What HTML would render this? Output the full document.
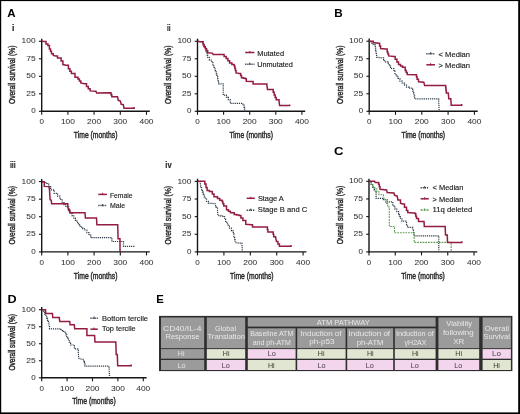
<!DOCTYPE html>
<html><head><meta charset="utf-8"><style>
html,body{margin:0;padding:0;background:#fff;}
body{width:520px;height:414px;overflow:hidden;position:relative;}
svg{position:absolute;left:0;top:0;}
text{font-family:"Liberation Sans",sans-serif;}
.tk{font-size:8px;fill:#333;stroke:#333;stroke-width:0.04px;}
.ttl{font-size:9.6px;fill:#2a2a2a;stroke:#2a2a2a;stroke-width:0.45px;}
.lg{font-size:7.4px;fill:#222;stroke:#222;stroke-width:0.15px;}
.pl{font-size:11.0px;font-weight:bold;fill:#000;}
.rn{font-size:9.2px;font-weight:bold;fill:#2a2a2a;stroke:#2a2a2a;stroke-width:0.2px;}
.tb{font-size:8.0px;}
.td{font-size:7.8px;}
</style></head><body>
<svg width="520" height="414" viewBox="0 0 520 414" style="filter:blur(0.3px)">
<rect x="0" y="0" width="520" height="414" fill="#fff"/>
<rect x="159" y="315.9" width="353.4" height="55.2" fill="#2e2e2e"/>
<rect x="161" y="317.5" width="43.20" height="30.70" fill="#9b9b9b"/>
<rect x="206.8" y="317.5" width="38.40" height="30.70" fill="#9b9b9b"/>
<rect x="438.4" y="317.5" width="40.80" height="30.70" fill="#9b9b9b"/>
<rect x="482.6" y="317.5" width="28.30" height="30.70" fill="#9b9b9b"/>
<rect x="247.8" y="317.5" width="187.80" height="9.10" fill="#9b9b9b"/>
<rect x="247.8" y="328.3" width="47.80" height="19.90" fill="#9b9b9b"/>
<rect x="297.2" y="328.3" width="48.40" height="19.90" fill="#9b9b9b"/>
<rect x="347.2" y="328.3" width="46.00" height="19.90" fill="#9b9b9b"/>
<rect x="394.8" y="328.3" width="40.80" height="19.90" fill="#9b9b9b"/>
<rect x="161" y="349.1" width="43.20" height="9.60" fill="#9b9b9b"/>
<text x="177.76" y="356.35" class="td" fill="#e4e4e4" textLength="6.72" lengthAdjust="spacingAndGlyphs">Hi</text>
<rect x="206.8" y="349.1" width="38.40" height="9.60" fill="#e0e6d1"/>
<text x="222.84" y="356.35" class="td" fill="#363b2e" textLength="6.72" lengthAdjust="spacingAndGlyphs">Hi</text>
<rect x="247.8" y="349.1" width="47.80" height="9.60" fill="#f3d5ed"/>
<text x="267.70" y="356.35" class="td" fill="#463a48" textLength="8.08" lengthAdjust="spacingAndGlyphs">Lo</text>
<rect x="297.2" y="349.1" width="48.40" height="9.60" fill="#e0e6d1"/>
<text x="317.76" y="356.35" class="td" fill="#363b2e" textLength="6.72" lengthAdjust="spacingAndGlyphs">Hi</text>
<rect x="347.2" y="349.1" width="46.00" height="9.60" fill="#e0e6d1"/>
<text x="366.88" y="356.35" class="td" fill="#363b2e" textLength="6.72" lengthAdjust="spacingAndGlyphs">Hi</text>
<rect x="394.8" y="349.1" width="40.80" height="9.60" fill="#e0e6d1"/>
<text x="411.88" y="356.35" class="td" fill="#363b2e" textLength="6.72" lengthAdjust="spacingAndGlyphs">Hi</text>
<rect x="438.4" y="349.1" width="40.80" height="9.60" fill="#e0e6d1"/>
<text x="455.32" y="356.35" class="td" fill="#363b2e" textLength="6.72" lengthAdjust="spacingAndGlyphs">Hi</text>
<rect x="482.6" y="349.1" width="28.30" height="9.60" fill="#f3d5ed"/>
<text x="492.07" y="356.35" class="td" fill="#463a48" textLength="8.88" lengthAdjust="spacingAndGlyphs">Lo</text>
<rect x="161" y="360.0" width="43.20" height="10.00" fill="#9b9b9b"/>
<text x="177.48" y="367.75" class="td" fill="#e4e4e4" textLength="8.08" lengthAdjust="spacingAndGlyphs">Lo</text>
<rect x="206.8" y="360.0" width="38.40" height="10.00" fill="#f3d5ed"/>
<text x="221.76" y="367.75" class="td" fill="#463a48" textLength="8.08" lengthAdjust="spacingAndGlyphs">Lo</text>
<rect x="247.8" y="360.0" width="47.80" height="10.00" fill="#e0e6d1"/>
<text x="267.98" y="367.75" class="td" fill="#363b2e" textLength="6.72" lengthAdjust="spacingAndGlyphs">Hi</text>
<rect x="297.2" y="360.0" width="48.40" height="10.00" fill="#f3d5ed"/>
<text x="317.48" y="367.75" class="td" fill="#463a48" textLength="8.08" lengthAdjust="spacingAndGlyphs">Lo</text>
<rect x="347.2" y="360.0" width="46.00" height="10.00" fill="#f3d5ed"/>
<text x="365.80" y="367.75" class="td" fill="#463a48" textLength="8.08" lengthAdjust="spacingAndGlyphs">Lo</text>
<rect x="394.8" y="360.0" width="40.80" height="10.00" fill="#f3d5ed"/>
<text x="410.80" y="367.75" class="td" fill="#463a48" textLength="8.08" lengthAdjust="spacingAndGlyphs">Lo</text>
<rect x="438.4" y="360.0" width="40.80" height="10.00" fill="#f3d5ed"/>
<text x="454.24" y="367.75" class="td" fill="#463a48" textLength="8.08" lengthAdjust="spacingAndGlyphs">Lo</text>
<rect x="482.6" y="360.0" width="28.30" height="10.00" fill="#e0e6d1"/>
<text x="493.15" y="367.75" class="td" fill="#363b2e" textLength="6.72" lengthAdjust="spacingAndGlyphs">Hi</text>
<text x="7.32" y="17.25" class="pl" textLength="8.34" lengthAdjust="spacingAndGlyphs">A</text>
<text x="334.32" y="17.45" class="pl" textLength="8.46" lengthAdjust="spacingAndGlyphs">B</text>
<text x="333.98" y="155.45" class="pl" textLength="9.48" lengthAdjust="spacingAndGlyphs">C</text>
<text x="7.54" y="303.35" class="pl" textLength="9.14" lengthAdjust="spacingAndGlyphs">D</text>
<text x="156.32" y="303.35" class="pl" textLength="7.58" lengthAdjust="spacingAndGlyphs">E</text>
<text x="11.88" y="31.05" class="rn" textLength="2.46" lengthAdjust="spacingAndGlyphs">i</text>
<text x="167.00" y="31.05" class="rn" textLength="3.56" lengthAdjust="spacingAndGlyphs">ii</text>
<text x="9.88" y="168.35" class="rn" textLength="5.78" lengthAdjust="spacingAndGlyphs">iii</text>
<text x="165.32" y="168.35" class="rn" textLength="6.34" lengthAdjust="spacingAndGlyphs">iv</text>
<text x="257.22" y="55.65" class="lg" textLength="26.90" lengthAdjust="spacingAndGlyphs">Mutated</text>
<text x="257.22" y="66.75" class="lg" textLength="35.68" lengthAdjust="spacingAndGlyphs">Unmutated</text>
<text x="438.58" y="56.65" class="lg" textLength="31.46" lengthAdjust="spacingAndGlyphs">&lt; Median</text>
<text x="438.58" y="67.75" class="lg" textLength="31.46" lengthAdjust="spacingAndGlyphs">&gt; Median</text>
<text x="109.96" y="197.55" class="lg" textLength="22.54" lengthAdjust="spacingAndGlyphs">Female</text>
<text x="109.96" y="208.25" class="lg" textLength="15.16" lengthAdjust="spacingAndGlyphs">Male</text>
<text x="257.88" y="201.35" class="lg" textLength="25.90" lengthAdjust="spacingAndGlyphs">Stage A</text>
<text x="257.88" y="212.15" class="lg" textLength="49.36" lengthAdjust="spacingAndGlyphs">Stage B and C</text>
<text x="432.54" y="190.35" class="lg" textLength="30.80" lengthAdjust="spacingAndGlyphs">&lt; Median</text>
<text x="432.54" y="201.55" class="lg" textLength="30.80" lengthAdjust="spacingAndGlyphs">&gt; Median</text>
<text x="432.54" y="212.15" class="lg" textLength="39.68" lengthAdjust="spacingAndGlyphs">11q deleted</text>
<text x="102.10" y="320.85" class="lg" textLength="45.90" lengthAdjust="spacingAndGlyphs">Bottom tercile</text>
<text x="102.10" y="331.45" class="lg" textLength="33.56" lengthAdjust="spacingAndGlyphs">Top tercile</text>
<text x="163.10" y="330.75" class="tb" fill="#e8e8e8" textLength="38.24" lengthAdjust="spacingAndGlyphs">CD40/IL-4</text>
<text x="165.44" y="339.35" class="tb" fill="#e8e8e8" textLength="34.02" lengthAdjust="spacingAndGlyphs">Response</text>
<text x="215.00" y="330.75" class="tb" fill="#e8e8e8" textLength="21.00" lengthAdjust="spacingAndGlyphs">Global</text>
<text x="207.44" y="339.35" class="tb" fill="#e8e8e8" textLength="37.68" lengthAdjust="spacingAndGlyphs">Translation</text>
<text x="316.78" y="325.45" class="tb" fill="#e8e8e8" textLength="53.00" lengthAdjust="spacingAndGlyphs">ATM PATHWAY</text>
<text x="250.22" y="336.45" class="tb" fill="#e8e8e8" textLength="43.12" lengthAdjust="spacingAndGlyphs">Baseline ATM</text>
<text x="252.66" y="344.75" class="tb" fill="#e8e8e8" textLength="38.24" lengthAdjust="spacingAndGlyphs">and ph-ATM</text>
<text x="300.42" y="336.45" class="tb" fill="#e8e8e8" textLength="41.02" lengthAdjust="spacingAndGlyphs">Induction of</text>
<text x="309.22" y="344.35" class="tb" fill="#e8e8e8" textLength="25.46" lengthAdjust="spacingAndGlyphs">ph-p53</text>
<text x="348.64" y="336.45" class="tb" fill="#e8e8e8" textLength="41.48" lengthAdjust="spacingAndGlyphs">Induction of</text>
<text x="356.66" y="344.55" class="tb" fill="#e8e8e8" textLength="26.90" lengthAdjust="spacingAndGlyphs">ph-ATM</text>
<text x="395.88" y="336.45" class="tb" fill="#e8e8e8" textLength="37.90" lengthAdjust="spacingAndGlyphs">Induction of</text>
<text x="404.56" y="344.55" class="tb" fill="#e8e8e8" textLength="22.00" lengthAdjust="spacingAndGlyphs">&#947;H2AX</text>
<text x="446.34" y="326.05" class="tb" fill="#e8e8e8" textLength="25.66" lengthAdjust="spacingAndGlyphs">Viability</text>
<text x="442.88" y="334.55" class="tb" fill="#e8e8e8" textLength="30.78" lengthAdjust="spacingAndGlyphs">following</text>
<text x="453.32" y="343.85" class="tb" fill="#e8e8e8" textLength="10.90" lengthAdjust="spacingAndGlyphs">XR</text>
<text x="484.78" y="331.05" class="tb" fill="#e8e8e8" textLength="24.22" lengthAdjust="spacingAndGlyphs">Overall</text>
<text x="483.44" y="338.65" class="tb" fill="#e8e8e8" textLength="26.34" lengthAdjust="spacingAndGlyphs">Survival</text>
<line x1="41.7" y1="38.699999999999996" x2="41.7" y2="111.89999999999999" stroke="#151515" stroke-width="1.4"/>
<line x1="41.1" y1="111.3" x2="149.8" y2="111.3" stroke="#151515" stroke-width="1.4"/>
<line x1="38.900000000000006" y1="111.30" x2="41.7" y2="111.30" stroke="#151515" stroke-width="1.1"/>
<text x="35.60" y="113.40" class="tk" text-anchor="end">0</text>
<line x1="38.900000000000006" y1="93.80" x2="41.7" y2="93.80" stroke="#151515" stroke-width="1.1"/>
<text x="35.60" y="95.90" class="tk" text-anchor="end" textLength="9.4" lengthAdjust="spacingAndGlyphs">25</text>
<line x1="38.900000000000006" y1="76.30" x2="41.7" y2="76.30" stroke="#151515" stroke-width="1.1"/>
<text x="35.60" y="78.40" class="tk" text-anchor="end" textLength="9.4" lengthAdjust="spacingAndGlyphs">50</text>
<line x1="38.900000000000006" y1="58.80" x2="41.7" y2="58.80" stroke="#151515" stroke-width="1.1"/>
<text x="35.60" y="60.90" class="tk" text-anchor="end" textLength="9.4" lengthAdjust="spacingAndGlyphs">75</text>
<line x1="38.900000000000006" y1="41.30" x2="41.7" y2="41.30" stroke="#151515" stroke-width="1.1"/>
<text x="35.60" y="43.40" class="tk" text-anchor="end" textLength="14" lengthAdjust="spacingAndGlyphs">100</text>
<line x1="41.70" y1="111.3" x2="41.70" y2="114.8" stroke="#151515" stroke-width="1.1"/>
<text x="41.70" y="124.10" class="tk" text-anchor="middle">0</text>
<line x1="67.90" y1="111.3" x2="67.90" y2="114.8" stroke="#151515" stroke-width="1.1"/>
<text x="67.90" y="124.10" class="tk" text-anchor="middle" textLength="14" lengthAdjust="spacingAndGlyphs">100</text>
<line x1="94.10" y1="111.3" x2="94.10" y2="114.8" stroke="#151515" stroke-width="1.1"/>
<text x="94.10" y="124.10" class="tk" text-anchor="middle" textLength="14" lengthAdjust="spacingAndGlyphs">200</text>
<line x1="120.30" y1="111.3" x2="120.30" y2="114.8" stroke="#151515" stroke-width="1.1"/>
<text x="120.30" y="124.10" class="tk" text-anchor="middle" textLength="14" lengthAdjust="spacingAndGlyphs">300</text>
<line x1="146.50" y1="111.3" x2="146.50" y2="114.8" stroke="#151515" stroke-width="1.1"/>
<text x="146.50" y="124.10" class="tk" text-anchor="middle" textLength="14" lengthAdjust="spacingAndGlyphs">400</text>
<text x="95.62" y="137.90" class="ttl" text-anchor="middle" textLength="43.6" lengthAdjust="spacingAndGlyphs">Time (months)</text>
<text transform="translate(15.30,74.80) rotate(-90)" x="0" y="0" class="ttl" text-anchor="middle" textLength="58.5" lengthAdjust="spacingAndGlyphs">Overall survival (%)</text>
<polyline points="41.7,41.3 44.2,41.6 46.0,41.6 46.0,44.0 47.9,44.0 47.9,45.5 49.4,45.5 49.4,48.9 50.5,48.9 50.5,51.3 51.5,51.3 51.5,53.7 53.3,53.7 53.3,55.5 55.7,56.1 57.5,56.1 57.5,57.9 61.1,57.9 61.1,61.0 62.9,61.0 62.9,64.6 66.0,65.2 68.4,65.2 68.4,68.8 69.9,68.8 69.9,71.2 71.4,71.2 71.4,73.6 75.0,73.6 75.0,77.3 78.0,77.3 78.0,79.1 79.4,79.1 79.4,81.0 80.8,81.0 80.8,83.0 84.4,83.7 86.5,83.7 86.5,86.6 88.3,86.6 88.3,88.8 90.1,88.8 90.1,90.9 95.9,91.3 96.6,93.1 110.3,92.8 111.0,92.8 111.0,94.8 111.8,94.8 111.8,96.7 117.5,96.7 118.3,100.3 120.4,101.0 121.2,104.3 123.3,104.6 124.0,108.2 134.1,108.2 134.1,107.0" fill="none" stroke="#941c40" stroke-width="1.5" stroke-linejoin="miter"/>
<line x1="197.5" y1="38.699999999999996" x2="197.5" y2="111.89999999999999" stroke="#151515" stroke-width="1.4"/>
<line x1="196.9" y1="111.3" x2="305.2" y2="111.3" stroke="#151515" stroke-width="1.4"/>
<line x1="194.7" y1="111.30" x2="197.5" y2="111.30" stroke="#151515" stroke-width="1.1"/>
<text x="191.40" y="113.40" class="tk" text-anchor="end">0</text>
<line x1="194.7" y1="93.80" x2="197.5" y2="93.80" stroke="#151515" stroke-width="1.1"/>
<text x="191.40" y="95.90" class="tk" text-anchor="end" textLength="9.4" lengthAdjust="spacingAndGlyphs">25</text>
<line x1="194.7" y1="76.30" x2="197.5" y2="76.30" stroke="#151515" stroke-width="1.1"/>
<text x="191.40" y="78.40" class="tk" text-anchor="end" textLength="9.4" lengthAdjust="spacingAndGlyphs">50</text>
<line x1="194.7" y1="58.80" x2="197.5" y2="58.80" stroke="#151515" stroke-width="1.1"/>
<text x="191.40" y="60.90" class="tk" text-anchor="end" textLength="9.4" lengthAdjust="spacingAndGlyphs">75</text>
<line x1="194.7" y1="41.30" x2="197.5" y2="41.30" stroke="#151515" stroke-width="1.1"/>
<text x="191.40" y="43.40" class="tk" text-anchor="end" textLength="14" lengthAdjust="spacingAndGlyphs">100</text>
<line x1="197.50" y1="111.3" x2="197.50" y2="114.8" stroke="#151515" stroke-width="1.1"/>
<text x="197.50" y="124.10" class="tk" text-anchor="middle">0</text>
<line x1="223.60" y1="111.3" x2="223.60" y2="114.8" stroke="#151515" stroke-width="1.1"/>
<text x="223.60" y="124.10" class="tk" text-anchor="middle" textLength="14" lengthAdjust="spacingAndGlyphs">100</text>
<line x1="249.70" y1="111.3" x2="249.70" y2="114.8" stroke="#151515" stroke-width="1.1"/>
<text x="249.70" y="124.10" class="tk" text-anchor="middle" textLength="14" lengthAdjust="spacingAndGlyphs">200</text>
<line x1="275.80" y1="111.3" x2="275.80" y2="114.8" stroke="#151515" stroke-width="1.1"/>
<text x="275.80" y="124.10" class="tk" text-anchor="middle" textLength="14" lengthAdjust="spacingAndGlyphs">300</text>
<line x1="301.90" y1="111.3" x2="301.90" y2="114.8" stroke="#151515" stroke-width="1.1"/>
<text x="301.90" y="124.10" class="tk" text-anchor="middle" textLength="14" lengthAdjust="spacingAndGlyphs">400</text>
<text x="251.21" y="137.90" class="ttl" text-anchor="middle" textLength="43.6" lengthAdjust="spacingAndGlyphs">Time (months)</text>
<text transform="translate(171.10,74.80) rotate(-90)" x="0" y="0" class="ttl" text-anchor="middle" textLength="58.5" lengthAdjust="spacingAndGlyphs">Overall survival (%)</text>
<polyline points="197.5,41.3 201.9,41.8 202.9,41.8 202.9,44.1 203.8,44.1 203.8,46.4 204.8,46.4 204.8,48.7 205.7,48.7 205.7,51.0 206.5,51.0 206.5,53.3 207.1,53.3 207.1,55.3 207.7,55.3 207.7,57.3 209.4,57.3 209.4,60.2 211.9,60.2 211.9,62.5 212.9,62.5 212.9,65.0 213.8,65.0 213.8,67.5 215.1,67.5 215.1,70.7 216.3,70.7 216.3,73.8 216.9,73.8 216.9,76.3 217.6,76.3 217.6,78.8 218.1,78.8 218.1,81.3 218.6,81.3 218.6,83.9 223.2,83.9 223.2,95.2 226.4,95.2 226.4,97.1 228.3,97.1 228.3,99.6 230.2,99.6 230.2,103.3 242.7,103.3 243.3,105.2 243.9,105.2 243.9,107.4 244.6,107.4 244.6,109.6 244.8,111.4" fill="none" stroke="#2c3a48" stroke-width="1.2" stroke-linejoin="miter" stroke-dasharray="1.2 0.9"/>
<polyline points="197.5,41.3 200.2,41.8 203.1,41.8 203.1,44.7 204.2,44.7 204.2,46.7 205.4,46.7 205.4,48.7 206.6,48.7 206.6,50.7 207.7,50.7 207.7,52.7 212.3,53.1 213.2,54.5 222.1,54.5 224.1,54.5 224.1,56.5 226.2,56.5 226.2,58.5 227.9,58.5 227.9,60.8 229.6,60.8 229.6,63.1 231.9,63.1 231.9,64.5 234.2,64.5 234.2,66.0 234.8,66.0 234.8,68.3 235.4,68.3 235.4,70.6 236.0,70.6 236.0,72.9 239.6,73.5 240.6,73.5 240.6,75.6 241.5,75.6 241.5,77.7 243.4,77.7 243.4,78.2 245.4,78.2 245.4,78.7 246.3,78.7 246.3,81.2 252.1,81.5 253.1,81.5 253.1,84.0 264.6,84.0 266.9,84.0 266.9,85.4 267.5,89.6 272.3,89.6 273.2,89.6 273.2,92.3 274.2,92.3 274.2,95.0 275.2,95.0 275.2,97.4 276.2,97.4 276.2,99.8 279.0,99.8 279.0,100.8 279.6,105.6 289.6,105.6 289.6,104.4" fill="none" stroke="#941c40" stroke-width="1.5" stroke-linejoin="miter"/>
<line x1="245.2" y1="52.5" x2="254.4" y2="52.5" stroke="#941c40" stroke-width="1.5"/>
<line x1="249.8" y1="50.9" x2="249.8" y2="53.1" stroke="#941c40" stroke-width="1"/>
<line x1="245.2" y1="64.2" x2="254.4" y2="64.2" stroke="#2c3a48" stroke-width="1.5" stroke-dasharray="1.2 0.9"/>
<line x1="249.8" y1="62.6" x2="249.8" y2="64.8" stroke="#2c3a48" stroke-width="1"/>
<line x1="369.2" y1="38.6" x2="369.2" y2="111.89999999999999" stroke="#151515" stroke-width="1.4"/>
<line x1="368.59999999999997" y1="111.3" x2="477.7" y2="111.3" stroke="#151515" stroke-width="1.4"/>
<line x1="366.4" y1="111.30" x2="369.2" y2="111.30" stroke="#151515" stroke-width="1.1"/>
<text x="363.10" y="113.40" class="tk" text-anchor="end">0</text>
<line x1="366.4" y1="93.78" x2="369.2" y2="93.78" stroke="#151515" stroke-width="1.1"/>
<text x="363.10" y="95.88" class="tk" text-anchor="end" textLength="9.4" lengthAdjust="spacingAndGlyphs">25</text>
<line x1="366.4" y1="76.25" x2="369.2" y2="76.25" stroke="#151515" stroke-width="1.1"/>
<text x="363.10" y="78.35" class="tk" text-anchor="end" textLength="9.4" lengthAdjust="spacingAndGlyphs">50</text>
<line x1="366.4" y1="58.73" x2="369.2" y2="58.73" stroke="#151515" stroke-width="1.1"/>
<text x="363.10" y="60.83" class="tk" text-anchor="end" textLength="9.4" lengthAdjust="spacingAndGlyphs">75</text>
<line x1="366.4" y1="41.20" x2="369.2" y2="41.20" stroke="#151515" stroke-width="1.1"/>
<text x="363.10" y="43.30" class="tk" text-anchor="end" textLength="14" lengthAdjust="spacingAndGlyphs">100</text>
<line x1="369.20" y1="111.3" x2="369.20" y2="114.8" stroke="#151515" stroke-width="1.1"/>
<text x="369.20" y="124.10" class="tk" text-anchor="middle">0</text>
<line x1="395.50" y1="111.3" x2="395.50" y2="114.8" stroke="#151515" stroke-width="1.1"/>
<text x="395.50" y="124.10" class="tk" text-anchor="middle" textLength="14" lengthAdjust="spacingAndGlyphs">100</text>
<line x1="421.80" y1="111.3" x2="421.80" y2="114.8" stroke="#151515" stroke-width="1.1"/>
<text x="421.80" y="124.10" class="tk" text-anchor="middle" textLength="14" lengthAdjust="spacingAndGlyphs">200</text>
<line x1="448.10" y1="111.3" x2="448.10" y2="114.8" stroke="#151515" stroke-width="1.1"/>
<text x="448.10" y="124.10" class="tk" text-anchor="middle" textLength="14" lengthAdjust="spacingAndGlyphs">300</text>
<line x1="474.40" y1="111.3" x2="474.40" y2="114.8" stroke="#151515" stroke-width="1.1"/>
<text x="474.40" y="124.10" class="tk" text-anchor="middle" textLength="14" lengthAdjust="spacingAndGlyphs">400</text>
<text x="423.33" y="137.90" class="ttl" text-anchor="middle" textLength="43.6" lengthAdjust="spacingAndGlyphs">Time (months)</text>
<text transform="translate(342.80,74.75) rotate(-90)" x="0" y="0" class="ttl" text-anchor="middle" textLength="58.5" lengthAdjust="spacingAndGlyphs">Overall survival (%)</text>
<polyline points="369.3,41.2 371.3,41.2 371.3,43.3 373.3,43.3 373.3,44.6 375.3,44.6 375.3,48.0 375.6,48.0 375.6,50.3 376.0,50.3 376.0,52.6 376.3,52.6 376.3,54.9 376.6,54.9 376.6,57.2 382.6,57.9 383.6,57.9 383.6,59.9 384.6,59.9 384.6,61.9 387.9,61.9 387.9,63.2 389.2,63.2 389.2,65.8 390.6,65.8 390.6,68.5 393.9,68.5 393.9,71.2 394.9,71.2 394.9,73.5 395.9,73.5 395.9,75.8 397.9,75.8 397.9,78.5 399.9,78.5 399.9,81.2 402.2,81.2 402.2,83.2 404.5,83.2 404.5,85.1 406.5,85.1 406.5,87.1 409.1,87.1 409.1,88.1 411.7,88.1 411.7,89.1 412.7,89.1 412.7,91.1 413.7,91.1 413.7,93.1 414.1,93.1 414.1,95.9 414.6,95.9 414.6,98.8 437.7,98.8 438.7,98.8 438.7,101.7 439.2,111.4" fill="none" stroke="#2c3a48" stroke-width="1.2" stroke-linejoin="miter" stroke-dasharray="1.2 0.9"/>
<polyline points="369.2,41.2 372.0,41.2 373.3,41.2 373.3,42.6 378.6,43.3 379.6,43.3 379.6,46.0 380.6,46.0 380.6,48.6 385.9,49.0 387.2,49.0 387.2,51.9 387.9,51.9 387.9,53.9 388.6,53.9 388.6,55.9 393.9,56.6 395.2,56.6 395.2,59.2 396.9,59.2 396.9,61.9 398.5,61.9 398.5,64.6 400.5,64.6 400.5,65.9 402.5,65.9 402.5,67.2 405.2,67.2 405.2,70.5 406.2,70.5 406.2,72.5 407.2,72.5 407.2,74.5 415.8,74.8 416.5,74.8 416.5,77.0 417.1,77.0 417.1,79.2 418.5,79.2 418.5,81.8 423.8,82.2 424.6,85.6 445.4,85.6 445.7,85.6 445.7,88.1 446.0,88.1 446.0,90.6 446.3,90.6 446.3,93.1 448.3,93.1 448.8,98.8 450.8,98.8 451.2,105.2 461.7,105.2 461.7,104.0" fill="none" stroke="#941c40" stroke-width="1.5" stroke-linejoin="miter"/>
<line x1="426.3" y1="53.8" x2="435" y2="53.8" stroke="#2c3a48" stroke-width="1.5" stroke-dasharray="1.2 0.9"/>
<line x1="430.65" y1="52.199999999999996" x2="430.65" y2="54.4" stroke="#2c3a48" stroke-width="1"/>
<line x1="426.3" y1="64.8" x2="435" y2="64.8" stroke="#941c40" stroke-width="1.5"/>
<line x1="430.65" y1="63.199999999999996" x2="430.65" y2="65.39999999999999" stroke="#941c40" stroke-width="1"/>
<line x1="41.7" y1="179.0" x2="41.7" y2="252.5" stroke="#151515" stroke-width="1.4"/>
<line x1="41.1" y1="251.9" x2="149.8" y2="251.9" stroke="#151515" stroke-width="1.4"/>
<line x1="38.900000000000006" y1="251.90" x2="41.7" y2="251.90" stroke="#151515" stroke-width="1.1"/>
<text x="35.60" y="254.00" class="tk" text-anchor="end">0</text>
<line x1="38.900000000000006" y1="234.32" x2="41.7" y2="234.32" stroke="#151515" stroke-width="1.1"/>
<text x="35.60" y="236.42" class="tk" text-anchor="end" textLength="9.4" lengthAdjust="spacingAndGlyphs">25</text>
<line x1="38.900000000000006" y1="216.75" x2="41.7" y2="216.75" stroke="#151515" stroke-width="1.1"/>
<text x="35.60" y="218.85" class="tk" text-anchor="end" textLength="9.4" lengthAdjust="spacingAndGlyphs">50</text>
<line x1="38.900000000000006" y1="199.18" x2="41.7" y2="199.18" stroke="#151515" stroke-width="1.1"/>
<text x="35.60" y="201.28" class="tk" text-anchor="end" textLength="9.4" lengthAdjust="spacingAndGlyphs">75</text>
<line x1="38.900000000000006" y1="181.60" x2="41.7" y2="181.60" stroke="#151515" stroke-width="1.1"/>
<text x="35.60" y="183.70" class="tk" text-anchor="end" textLength="14" lengthAdjust="spacingAndGlyphs">100</text>
<line x1="41.70" y1="251.9" x2="41.70" y2="255.4" stroke="#151515" stroke-width="1.1"/>
<text x="41.70" y="264.70" class="tk" text-anchor="middle">0</text>
<line x1="67.90" y1="251.9" x2="67.90" y2="255.4" stroke="#151515" stroke-width="1.1"/>
<text x="67.90" y="264.70" class="tk" text-anchor="middle" textLength="14" lengthAdjust="spacingAndGlyphs">100</text>
<line x1="94.10" y1="251.9" x2="94.10" y2="255.4" stroke="#151515" stroke-width="1.1"/>
<text x="94.10" y="264.70" class="tk" text-anchor="middle" textLength="14" lengthAdjust="spacingAndGlyphs">200</text>
<line x1="120.30" y1="251.9" x2="120.30" y2="255.4" stroke="#151515" stroke-width="1.1"/>
<text x="120.30" y="264.70" class="tk" text-anchor="middle" textLength="14" lengthAdjust="spacingAndGlyphs">300</text>
<line x1="146.50" y1="251.9" x2="146.50" y2="255.4" stroke="#151515" stroke-width="1.1"/>
<text x="146.50" y="264.70" class="tk" text-anchor="middle" textLength="14" lengthAdjust="spacingAndGlyphs">400</text>
<text x="95.62" y="278.50" class="ttl" text-anchor="middle" textLength="43.6" lengthAdjust="spacingAndGlyphs">Time (months)</text>
<text transform="translate(15.30,215.25) rotate(-90)" x="0" y="0" class="ttl" text-anchor="middle" textLength="58.5" lengthAdjust="spacingAndGlyphs">Overall survival (%)</text>
<polyline points="42.0,181.8 44.4,181.8 44.4,182.7 46.7,182.7 46.7,183.5 48.7,183.5 48.7,186.7 50.7,186.7 50.7,189.8 54.2,189.8 54.2,193.3 57.6,193.3 57.6,196.2 59.9,196.2 59.9,199.3 62.2,199.3 62.2,202.5 64.0,202.5 64.0,204.6 65.7,204.6 65.7,206.6 67.7,206.9 68.7,206.9 68.7,209.2 69.6,209.2 69.6,211.4 70.6,211.4 70.6,213.7 72.2,213.7 72.2,215.9 73.8,215.9 73.8,218.2 75.4,218.2 75.4,220.4 77.0,220.4 77.0,222.6 78.6,222.6 78.6,224.9 80.2,224.9 80.2,227.1 82.6,227.1 82.6,228.6 85.0,228.6 85.0,230.0 86.9,230.0 86.9,232.6 88.9,232.6 88.9,235.1 90.8,235.1 90.8,237.7 110.0,237.7 111.9,237.7 111.9,241.5 123.5,241.5 123.5,246.3 135.0,246.3" fill="none" stroke="#2c3a48" stroke-width="1.2" stroke-linejoin="miter" stroke-dasharray="1.2 0.9"/>
<polyline points="41.7,181.8 44.3,181.8 44.3,182.9 44.3,186.4 49.0,186.6 49.5,189.8 50.1,199.7 51.3,200.2 51.6,203.7 66.8,203.7 67.8,203.7 67.8,206.6 68.6,210.6 69.7,210.6 69.7,212.7 85.0,212.7 85.4,218.1 96.5,218.1 96.9,224.8 117.7,224.8 118.1,238.7 120.0,238.7 120.0,251.7" fill="none" stroke="#941c40" stroke-width="1.5" stroke-linejoin="miter"/>
<line x1="98.3" y1="194.4" x2="106.9" y2="194.4" stroke="#941c40" stroke-width="1.5"/>
<line x1="102.6" y1="192.8" x2="102.6" y2="195.0" stroke="#941c40" stroke-width="1"/>
<line x1="98.3" y1="205.6" x2="106.9" y2="205.6" stroke="#2c3a48" stroke-width="1.5" stroke-dasharray="1.2 0.9"/>
<line x1="102.6" y1="204.0" x2="102.6" y2="206.2" stroke="#2c3a48" stroke-width="1"/>
<line x1="197.5" y1="178.8" x2="197.5" y2="252.5" stroke="#151515" stroke-width="1.4"/>
<line x1="196.9" y1="251.9" x2="306.40000000000003" y2="251.9" stroke="#151515" stroke-width="1.4"/>
<line x1="194.7" y1="251.90" x2="197.5" y2="251.90" stroke="#151515" stroke-width="1.1"/>
<text x="191.40" y="254.00" class="tk" text-anchor="end">0</text>
<line x1="194.7" y1="234.28" x2="197.5" y2="234.28" stroke="#151515" stroke-width="1.1"/>
<text x="191.40" y="236.38" class="tk" text-anchor="end" textLength="9.4" lengthAdjust="spacingAndGlyphs">25</text>
<line x1="194.7" y1="216.65" x2="197.5" y2="216.65" stroke="#151515" stroke-width="1.1"/>
<text x="191.40" y="218.75" class="tk" text-anchor="end" textLength="9.4" lengthAdjust="spacingAndGlyphs">50</text>
<line x1="194.7" y1="199.03" x2="197.5" y2="199.03" stroke="#151515" stroke-width="1.1"/>
<text x="191.40" y="201.12" class="tk" text-anchor="end" textLength="9.4" lengthAdjust="spacingAndGlyphs">75</text>
<line x1="194.7" y1="181.40" x2="197.5" y2="181.40" stroke="#151515" stroke-width="1.1"/>
<text x="191.40" y="183.50" class="tk" text-anchor="end" textLength="14" lengthAdjust="spacingAndGlyphs">100</text>
<line x1="197.50" y1="251.9" x2="197.50" y2="255.4" stroke="#151515" stroke-width="1.1"/>
<text x="197.50" y="264.70" class="tk" text-anchor="middle">0</text>
<line x1="223.90" y1="251.9" x2="223.90" y2="255.4" stroke="#151515" stroke-width="1.1"/>
<text x="223.90" y="264.70" class="tk" text-anchor="middle" textLength="14" lengthAdjust="spacingAndGlyphs">100</text>
<line x1="250.30" y1="251.9" x2="250.30" y2="255.4" stroke="#151515" stroke-width="1.1"/>
<text x="250.30" y="264.70" class="tk" text-anchor="middle" textLength="14" lengthAdjust="spacingAndGlyphs">200</text>
<line x1="276.70" y1="251.9" x2="276.70" y2="255.4" stroke="#151515" stroke-width="1.1"/>
<text x="276.70" y="264.70" class="tk" text-anchor="middle" textLength="14" lengthAdjust="spacingAndGlyphs">300</text>
<line x1="303.10" y1="251.9" x2="303.10" y2="255.4" stroke="#151515" stroke-width="1.1"/>
<text x="303.10" y="264.70" class="tk" text-anchor="middle" textLength="14" lengthAdjust="spacingAndGlyphs">400</text>
<text x="251.83" y="278.50" class="ttl" text-anchor="middle" textLength="43.6" lengthAdjust="spacingAndGlyphs">Time (months)</text>
<text transform="translate(171.10,215.15) rotate(-90)" x="0" y="0" class="ttl" text-anchor="middle" textLength="58.5" lengthAdjust="spacingAndGlyphs">Overall survival (%)</text>
<polyline points="197.9,181.4 200.2,181.4 200.2,182.3 200.8,187.5 201.7,187.5 201.7,189.8 202.5,189.8 202.5,192.2 203.3,192.2 203.3,194.5 204.2,194.5 204.2,196.8 205.3,196.8 205.3,199.1 206.5,199.1 206.5,201.4 208.3,201.4 208.3,203.1 215.2,203.7 215.8,207.2 217.5,207.2 217.5,210.6 217.9,215.6 220.8,215.6 220.8,216.1 223.7,216.1 223.7,216.5 224.6,216.5 224.6,219.4 225.6,219.4 225.6,222.3 227.5,222.3 227.5,225.2 229.4,225.2 229.4,228.1 231.4,228.1 231.4,230.9 233.3,230.9 233.3,233.8 233.9,233.8 233.9,236.7 234.6,236.7 234.6,239.6 235.2,239.6 235.2,242.5 239.0,243.1 241.9,243.1 242.3,251.7" fill="none" stroke="#2c3a48" stroke-width="1.2" stroke-linejoin="miter" stroke-dasharray="1.2 0.9"/>
<polyline points="197.5,181.2 203.7,181.2 204.8,181.2 204.8,184.1 206.0,184.1 206.0,187.5 207.1,187.5 207.1,190.4 209.4,190.4 209.4,191.6 212.3,191.6 212.3,193.9 214.0,193.9 214.0,196.8 217.5,196.8 217.5,198.5 219.8,198.5 219.8,200.2 222.1,200.2 222.1,201.4 222.9,201.4 222.9,203.7 223.8,203.7 223.8,206.0 226.5,206.0 226.5,209.8 228.4,209.8 228.4,211.2 230.4,211.2 230.4,212.7 234.2,212.7 234.2,214.6 236.6,214.6 236.6,215.1 239.0,215.1 239.0,215.6 240.9,215.6 240.9,218.0 242.9,218.0 242.9,220.4 245.8,220.4 245.8,224.2 251.5,224.8 252.5,224.8 252.5,227.1 266.9,227.1 267.4,227.1 267.4,229.5 267.9,229.5 267.9,231.9 272.7,231.9 273.2,231.9 273.2,234.3 273.7,234.3 273.7,236.7 275.6,236.7 275.6,237.7 276.5,241.5 277.9,241.5 277.9,243.9 279.4,243.9 279.4,246.3 291.0,246.3 291.0,245.1" fill="none" stroke="#941c40" stroke-width="1.5" stroke-linejoin="miter"/>
<line x1="246.7" y1="198.3" x2="254.8" y2="198.3" stroke="#941c40" stroke-width="1.5"/>
<line x1="250.75" y1="196.70000000000002" x2="250.75" y2="198.9" stroke="#941c40" stroke-width="1"/>
<line x1="246.7" y1="210.2" x2="254.8" y2="210.2" stroke="#2c3a48" stroke-width="1.5" stroke-dasharray="1.2 0.9"/>
<line x1="250.75" y1="208.6" x2="250.75" y2="210.79999999999998" stroke="#2c3a48" stroke-width="1"/>
<line x1="369.0" y1="178.70000000000002" x2="369.0" y2="252.5" stroke="#151515" stroke-width="1.4"/>
<line x1="368.4" y1="251.9" x2="477.3" y2="251.9" stroke="#151515" stroke-width="1.4"/>
<line x1="366.2" y1="251.90" x2="369.0" y2="251.90" stroke="#151515" stroke-width="1.1"/>
<text x="362.90" y="254.00" class="tk" text-anchor="end">0</text>
<line x1="366.2" y1="234.25" x2="369.0" y2="234.25" stroke="#151515" stroke-width="1.1"/>
<text x="362.90" y="236.35" class="tk" text-anchor="end" textLength="9.4" lengthAdjust="spacingAndGlyphs">25</text>
<line x1="366.2" y1="216.60" x2="369.0" y2="216.60" stroke="#151515" stroke-width="1.1"/>
<text x="362.90" y="218.70" class="tk" text-anchor="end" textLength="9.4" lengthAdjust="spacingAndGlyphs">50</text>
<line x1="366.2" y1="198.95" x2="369.0" y2="198.95" stroke="#151515" stroke-width="1.1"/>
<text x="362.90" y="201.05" class="tk" text-anchor="end" textLength="9.4" lengthAdjust="spacingAndGlyphs">75</text>
<line x1="366.2" y1="181.30" x2="369.0" y2="181.30" stroke="#151515" stroke-width="1.1"/>
<text x="362.90" y="183.40" class="tk" text-anchor="end" textLength="14" lengthAdjust="spacingAndGlyphs">100</text>
<line x1="369.00" y1="251.9" x2="369.00" y2="255.4" stroke="#151515" stroke-width="1.1"/>
<text x="369.00" y="264.70" class="tk" text-anchor="middle">0</text>
<line x1="395.25" y1="251.9" x2="395.25" y2="255.4" stroke="#151515" stroke-width="1.1"/>
<text x="395.25" y="264.70" class="tk" text-anchor="middle" textLength="14" lengthAdjust="spacingAndGlyphs">100</text>
<line x1="421.50" y1="251.9" x2="421.50" y2="255.4" stroke="#151515" stroke-width="1.1"/>
<text x="421.50" y="264.70" class="tk" text-anchor="middle" textLength="14" lengthAdjust="spacingAndGlyphs">200</text>
<line x1="447.75" y1="251.9" x2="447.75" y2="255.4" stroke="#151515" stroke-width="1.1"/>
<text x="447.75" y="264.70" class="tk" text-anchor="middle" textLength="14" lengthAdjust="spacingAndGlyphs">300</text>
<line x1="474.00" y1="251.9" x2="474.00" y2="255.4" stroke="#151515" stroke-width="1.1"/>
<text x="474.00" y="264.70" class="tk" text-anchor="middle" textLength="14" lengthAdjust="spacingAndGlyphs">400</text>
<text x="423.02" y="278.50" class="ttl" text-anchor="middle" textLength="43.6" lengthAdjust="spacingAndGlyphs">Time (months)</text>
<text transform="translate(342.60,215.10) rotate(-90)" x="0" y="0" class="ttl" text-anchor="middle" textLength="58.5" lengthAdjust="spacingAndGlyphs">Overall survival (%)</text>
<polyline points="369.5,181.3 371.1,181.3 371.1,184.5 372.6,184.5 372.6,187.1 374.0,187.1 374.0,189.6 375.1,189.6 375.1,191.8 376.1,191.8 376.1,194.0 376.1,198.3 382.0,198.3 383.4,198.3 383.4,199.7 387.0,199.7 387.0,201.9 389.9,201.9 392.8,201.9 392.8,204.8 393.9,204.8 393.9,207.0 395.0,207.0 395.0,209.2 396.8,209.2 396.8,211.7 398.6,211.7 398.6,214.2 399.5,214.2 399.5,216.5 400.4,216.5 400.4,218.8 401.9,218.8 401.9,221.2 406.5,221.2 406.5,225.8 408.1,225.8 408.1,227.3 411.9,227.3 412.7,227.3 412.7,229.6 413.5,229.6 413.5,231.9 414.2,235.8 438.8,235.8 438.8,251.7" fill="none" stroke="#2c3a48" stroke-width="1.2" stroke-linejoin="miter" stroke-dasharray="1.2 0.9"/>
<polyline points="369.5,181.5 371.1,181.5 371.1,184.5 372.9,184.5 372.9,186.7 374.7,186.7 374.7,188.9 376.9,188.9 376.9,191.8 379.0,191.8 379.0,194.7 383.4,194.7 384.1,199.7 385.6,199.7 385.6,203.4 387.7,203.4 387.7,207.0 389.3,207.0 389.3,208.0 389.3,226.5 394.5,226.5 394.5,232.7 412.7,232.7 414.2,232.7 414.2,235.8 414.2,242.4 451.2,242.4 451.2,251.7" fill="none" stroke="#5c9a4c" stroke-width="1.15" stroke-linejoin="miter" stroke-dasharray="1.7 1"/>
<polyline points="369.0,181.3 374.6,181.3 375.3,182.6 378.6,182.6 378.6,184.2 379.3,184.2 379.3,186.8 380.0,186.8 380.0,189.3 386.6,190.0 387.2,192.6 393.9,193.0 394.6,195.3 397.2,196.0 397.9,199.9 400.5,199.9 400.5,203.2 402.5,203.9 404.5,203.9 404.5,207.2 406.5,207.2 406.5,210.5 407.8,210.5 407.8,212.5 413.1,212.9 415.1,212.9 415.1,213.8 415.8,213.8 415.8,216.2 416.5,216.2 416.5,218.5 418.5,218.5 418.5,221.5 424.0,221.5 424.3,226.5 445.2,226.5 445.5,235.0 447.3,235.0 447.5,242.6 461.8,242.6 461.8,241.3" fill="none" stroke="#941c40" stroke-width="1.5" stroke-linejoin="miter"/>
<line x1="420.6" y1="187.8" x2="428.8" y2="187.8" stroke="#2c3a48" stroke-width="1.5" stroke-dasharray="1.2 0.9"/>
<line x1="424.70000000000005" y1="186.20000000000002" x2="424.70000000000005" y2="188.4" stroke="#2c3a48" stroke-width="1"/>
<line x1="420.6" y1="198.8" x2="428.8" y2="198.8" stroke="#941c40" stroke-width="1.5"/>
<line x1="424.70000000000005" y1="197.20000000000002" x2="424.70000000000005" y2="199.4" stroke="#941c40" stroke-width="1"/>
<line x1="420.6" y1="210.0" x2="428.8" y2="210.0" stroke="#5c9a4c" stroke-width="1.5" stroke-dasharray="2 1"/>
<line x1="424.70000000000005" y1="208.4" x2="424.70000000000005" y2="210.6" stroke="#5c9a4c" stroke-width="1"/>
<line x1="41.7" y1="307.09999999999997" x2="41.7" y2="378.40000000000003" stroke="#151515" stroke-width="1.4"/>
<line x1="41.1" y1="377.8" x2="146.60000000000002" y2="377.8" stroke="#151515" stroke-width="1.4"/>
<line x1="38.900000000000006" y1="377.80" x2="41.7" y2="377.80" stroke="#151515" stroke-width="1.1"/>
<text x="35.60" y="379.90" class="tk" text-anchor="end">0</text>
<line x1="38.900000000000006" y1="360.77" x2="41.7" y2="360.77" stroke="#151515" stroke-width="1.1"/>
<text x="35.60" y="362.88" class="tk" text-anchor="end" textLength="9.4" lengthAdjust="spacingAndGlyphs">25</text>
<line x1="38.900000000000006" y1="343.75" x2="41.7" y2="343.75" stroke="#151515" stroke-width="1.1"/>
<text x="35.60" y="345.85" class="tk" text-anchor="end" textLength="9.4" lengthAdjust="spacingAndGlyphs">50</text>
<line x1="38.900000000000006" y1="326.73" x2="41.7" y2="326.73" stroke="#151515" stroke-width="1.1"/>
<text x="35.60" y="328.83" class="tk" text-anchor="end" textLength="9.4" lengthAdjust="spacingAndGlyphs">75</text>
<line x1="38.900000000000006" y1="309.70" x2="41.7" y2="309.70" stroke="#151515" stroke-width="1.1"/>
<text x="35.60" y="311.80" class="tk" text-anchor="end" textLength="14" lengthAdjust="spacingAndGlyphs">100</text>
<line x1="41.70" y1="377.8" x2="41.70" y2="381.3" stroke="#151515" stroke-width="1.1"/>
<text x="41.70" y="390.60" class="tk" text-anchor="middle">0</text>
<line x1="67.10" y1="377.8" x2="67.10" y2="381.3" stroke="#151515" stroke-width="1.1"/>
<text x="67.10" y="390.60" class="tk" text-anchor="middle" textLength="14" lengthAdjust="spacingAndGlyphs">100</text>
<line x1="92.50" y1="377.8" x2="92.50" y2="381.3" stroke="#151515" stroke-width="1.1"/>
<text x="92.50" y="390.60" class="tk" text-anchor="middle" textLength="14" lengthAdjust="spacingAndGlyphs">200</text>
<line x1="117.90" y1="377.8" x2="117.90" y2="381.3" stroke="#151515" stroke-width="1.1"/>
<text x="117.90" y="390.60" class="tk" text-anchor="middle" textLength="14" lengthAdjust="spacingAndGlyphs">300</text>
<line x1="143.30" y1="377.8" x2="143.30" y2="381.3" stroke="#151515" stroke-width="1.1"/>
<text x="143.30" y="390.60" class="tk" text-anchor="middle" textLength="14" lengthAdjust="spacingAndGlyphs">400</text>
<text x="93.97" y="404.40" class="ttl" text-anchor="middle" textLength="43.6" lengthAdjust="spacingAndGlyphs">Time (months)</text>
<text transform="translate(15.30,342.25) rotate(-90)" x="0" y="0" class="ttl" text-anchor="middle" textLength="56.5" lengthAdjust="spacingAndGlyphs">Overall survival (%)</text>
<polyline points="42.6,309.8 43.8,309.8 43.8,312.6 44.9,312.6 44.9,315.5 46.7,315.5 46.7,318.4 47.5,318.4 47.5,320.7 48.4,320.7 48.4,323.0 49.0,323.0 49.0,325.9 49.5,325.9 49.5,328.8 59.9,328.8 61.1,328.8 61.1,330.5 63.1,330.5 63.1,331.4 65.1,331.4 65.1,332.3 65.9,332.3 65.9,334.9 66.8,334.9 66.8,337.5 67.7,337.5 67.7,339.2 69.2,339.2 69.2,342.1 70.6,342.1 70.6,345.0 74.4,345.0 74.4,348.8 78.3,348.8 78.3,352.7 78.8,358.5 83.1,359.4 83.7,359.4 83.7,361.7 84.4,361.7 84.4,363.9 85.0,363.9 85.0,366.2 109.0,366.2 109.6,377.7" fill="none" stroke="#2c3a48" stroke-width="1.2" stroke-linejoin="miter" stroke-dasharray="1.2 0.9"/>
<polyline points="41.7,309.8 45.5,309.8 45.8,313.5 52.4,313.5 52.8,317.6 59.3,317.6 59.7,321.5 69.7,321.5 70.1,324.8 74.3,324.8 74.7,328.7 86.9,328.7 86.9,335.4 94.6,335.4 95.0,342.1 115.8,342.1 116.2,354.6 117.3,354.6 117.7,365.8 131.2,365.8 131.2,364.6" fill="none" stroke="#941c40" stroke-width="1.5" stroke-linejoin="miter"/>
<line x1="90.4" y1="318.2" x2="97.8" y2="318.2" stroke="#2c3a48" stroke-width="1.5" stroke-dasharray="1.2 0.9"/>
<line x1="94.1" y1="316.59999999999997" x2="94.1" y2="318.8" stroke="#2c3a48" stroke-width="1"/>
<line x1="90.4" y1="329.2" x2="97.8" y2="329.2" stroke="#941c40" stroke-width="1.5"/>
<line x1="94.1" y1="327.59999999999997" x2="94.1" y2="329.8" stroke="#941c40" stroke-width="1"/>
<rect x="0" y="0" width="520" height="1.1" fill="#000"/>
<rect x="0" y="0" width="1.2" height="414" fill="#000"/>
<rect x="518.2" y="0" width="1.8" height="414" fill="#000"/>
<rect x="0" y="412.4" width="520" height="1.6" fill="#000"/>
</svg>
</body></html>
